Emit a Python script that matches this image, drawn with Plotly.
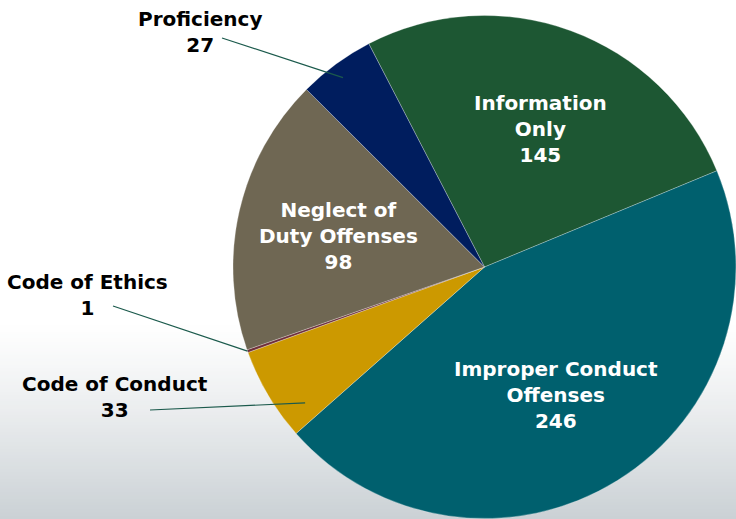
import math
import plotly.graph_objects as go

# ---- data ----
categories = ["Information Only", "Improper Conduct Offenses", "Code of Conduct",
              "Code of Ethics", "Neglect of Duty Offenses", "Proficiency"]
values = [145, 246, 33, 1, 98, 27]
label_lines = ["Information<br>Only", "Improper Conduct<br>Offenses", "Code of Conduct",
               "Code of Ethics", "Neglect of<br>Duty Offenses", "Proficiency"]
colors = ["#1d5733", "#00606e", "#cc9900", "#6e2f3a", "#6f6753", "#001d5e"]

W, H = 736, 519
ROT = -27.4  # start angle of first slice (degrees clockwise from 12 o'clock)

# pie placement in pixels
dom_x = (233, 736)
dom_top, dom_bot = 15.5, 518.5
cx = (dom_x[0] + dom_x[1]) / 2
cy = (dom_top + dom_bot) / 2
R = min(dom_x[1] - dom_x[0], dom_bot - dom_top) / 2

def px(x):
    return x / W

def py(y):
    return 1 - y / H

fig = go.Figure()
fig.add_trace(go.Pie(
    labels=categories, values=values, sort=False, direction="clockwise",
    rotation=ROT, textinfo="none", hoverinfo="label+value",
    marker=dict(colors=colors, line=dict(color="rgba(255,255,255,0.45)", width=0.6)),
    domain=dict(x=[px(dom_x[0]), px(dom_x[1])], y=[py(dom_bot), py(dom_top)]),
    showlegend=False,
))

# slice angle ranges from data
total = sum(values)
starts, spans = [], []
acc = ROT
for v in values:
    span = v / total * 360
    starts.append(acc)
    spans.append(span)
    acc += span

def slice_point(i, frac_r, frac_a):
    a = math.radians(starts[i] + frac_a * spans[i])
    return cx + frac_r * R * math.sin(a), cy - frac_r * R * math.cos(a)

shapes = []
# background: white sky fading into grey sea
n = 60
y0, y1 = 318, H
for k in range(n):
    t = k / (n - 1)
    f = t ** 1.2
    c0 = (255, 255, 255)
    c1 = (203, 209, 213)
    col = tuple(int(round(c0[j] + (c1[j] - c0[j]) * f)) for j in range(3))
    ya = y0 + (y1 - y0) * k / n
    yb = y0 + (y1 - y0) * (k + 1) / n + 1
    shapes.append(dict(type="rect", xref="paper", yref="paper", layer="below",
                       x0=0, x1=1, y0=py(yb), y1=py(ya),
                       fillcolor="rgb(%d,%d,%d)" % col, line=dict(width=0)))

annotations = []
FONT = "DejaVu Sans"
font_in = dict(family=FONT, size=20, color="white", weight="bold")
font_out = dict(family=FONT, size=20, color="black", weight="bold")

# inside labels: (index, x_px, y_px)
inside = [(0, 540, 129), (1, 556, 395), (4, 338, 236)]
for i, x, y in inside:
    annotations.append(dict(x=px(x), y=py(y), xref="paper", yref="paper",
                            text=f"{label_lines[i]}<br>{values[i]}", showarrow=False,
                            font=font_in, align="center", xanchor="center", yanchor="middle"))

# outside labels: (index, label x, label y, line start x, line start y, tip radius frac, tip angle frac)
outside = [(5, 200, 32, 222, 38, 0.94, 0.47),
           (3, 87, 295, 113, 306, 1.0, 0.5),
           (2, 115, 397, 150, 410, 0.895, 0.2)]
for i, x, y, lx, ly, fr, fa in outside:
    annotations.append(dict(x=px(x), y=py(y), xref="paper", yref="paper",
                            text=f"{label_lines[i]}<br>{values[i]}", showarrow=False,
                            font=font_out, align="center", xanchor="center", yanchor="middle"))
    tx, ty = slice_point(i, fr, fa)
    shapes.append(dict(type="line", xref="paper", yref="paper", layer="above",
                       x0=px(lx), y0=py(ly), x1=px(tx), y1=py(ty),
                       line=dict(color="#1b5a4c", width=1.2)))

fig.update_layout(
    width=W, height=H, margin=dict(l=0, r=0, t=0, b=0),
    paper_bgcolor="white", plot_bgcolor="white",
    shapes=shapes, annotations=annotations,
)
fig.write_html("out.html", config={"displayModeBar": False},
               post_script="document.body.style.margin='0';document.body.style.overflow='hidden';")
